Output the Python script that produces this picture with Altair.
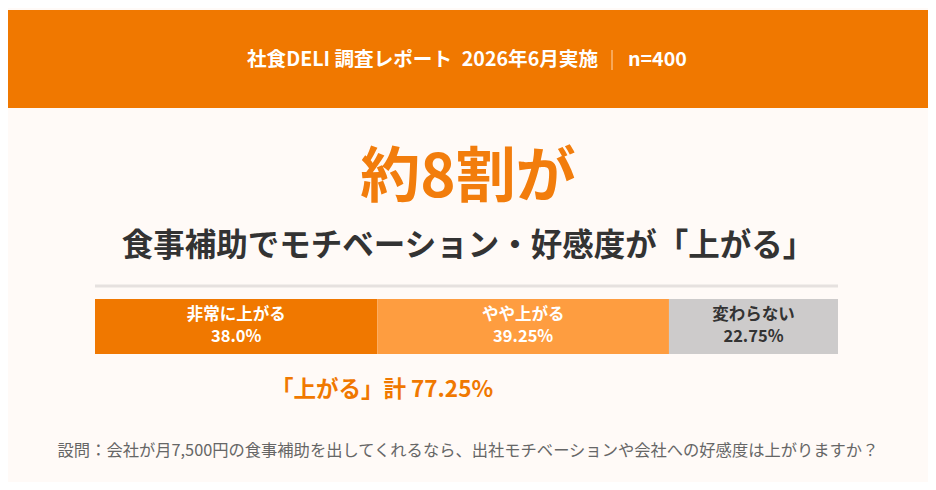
import altair as alt
import pandas as pd

# ---- data ----
categories = ["非常に上がる", "やや上がる", "変わらない"]
values = [38.0, 39.25, 22.75]
seg_colors = ["#F07800", "#FE9D40", "#CDCBCB"]
label_colors = ["#FFFFFF", "#FFFFFF", "#333333"]

header_left = "社食DELI 調査レポート\u20022026年6月実施"
header_right = "n=400"
headline = "約8割が"
subhead = "食事補助でモチベーション・好感度が「上がる」"
question = "設問：会社が月7,500円の食事補助を出してくれるなら、出社モチベーションや会社への好感度は上がりますか？"

FONT = "Noto Sans CJK JP"
ORANGE = "#F07800"
BG = "#FFFAF7"

W, H = 920, 474

# ---- tables ----
starts = []
acc = 0.0
for v in values:
    starts.append(acc)
    acc += v
bars = pd.DataFrame({
    "cat": categories,
    "value": values,
    "start": starts,
    "end": [s + v for s, v in zip(starts, values)],
    "pct": [f"{v}%" for v in values],
    "color": seg_colors,
    "tcolor": label_colors,
})
bars["mid"] = (bars["start"] + bars["end"]) / 2

up_total = values[0] + values[1]
total_df = pd.DataFrame({"s": [0.0], "e": [up_total],
                         "label": [f"「上がる」計 {up_total}%"]})
total_df["mid"] = (total_df["s"] + total_df["e"]) / 2

xscale = alt.Scale(domain=[0, 100], range=[87, 830])

one = pd.DataFrame({"k": [0]})

band = alt.Chart(one).mark_rect(color=ORANGE).encode(
    x=alt.value(-6), x2=alt.value(W + 6), y=alt.value(2), y2=alt.value(100))

hdr_l = alt.Chart(pd.DataFrame({"t": [header_left]})).mark_text(
    font=FONT, fontSize=19.6, fontWeight="bold", color="white", align="right", baseline="middle"
).encode(x=alt.value(590), y=alt.value(52), text="t:N")
hdr_sep = alt.Chart(one).mark_rule(color="#FFD7B0", strokeWidth=1).encode(
    x=alt.value(604), y=alt.value(42), y2=alt.value(62))
hdr_r = alt.Chart(pd.DataFrame({"t": [header_right]})).mark_text(
    font=FONT, fontSize=19.6, fontWeight="bold", color="white", align="left", baseline="middle"
).encode(x=alt.value(620), y=alt.value(52), text="t:N")

title = alt.Chart(pd.DataFrame({"t": [headline]})).mark_text(
    font=FONT, fontSize=60, fontWeight="bold", color="#F27D0C", align="center", baseline="middle"
).encode(x=alt.value(460), y=alt.value(171), text="t:N")
sub = alt.Chart(pd.DataFrame({"t": [subhead]})).mark_text(
    font=FONT, fontSize=31.5, fontWeight="bold", color="#333333", align="center", baseline="middle"
).encode(x=alt.value(460), y=alt.value(239), text="t:N")

sep = alt.Chart(one).mark_rule(color="#E6E1DF", strokeWidth=3).encode(
    x=alt.value(87), x2=alt.value(830), y=alt.value(278))

base = alt.Chart(bars)
seg = base.mark_rect().encode(
    x=alt.X("start:Q", scale=xscale, axis=None),
    x2="end:Q",
    y=alt.value(291), y2=alt.value(346),
    color=alt.Color("color:N", scale=None),
)
lab1 = base.mark_text(font=FONT, fontSize=16.5, fontWeight="bold", baseline="middle").encode(
    x=alt.X("mid:Q", scale=xscale, axis=None), y=alt.value(307), text="cat:N",
    color=alt.Color("tcolor:N", scale=None))
lab2 = base.mark_text(font=FONT, fontSize=16.5, fontWeight="bold", baseline="middle").encode(
    x=alt.X("mid:Q", scale=xscale, axis=None), y=alt.value(329), text="pct:N",
    color=alt.Color("tcolor:N", scale=None))

tot = alt.Chart(total_df).mark_text(
    font=FONT, fontSize=22.5, fontWeight="bold", color=ORANGE, baseline="middle"
).encode(x=alt.X("mid:Q", scale=xscale, axis=None), y=alt.value(382), text="label:N")

foot = alt.Chart(pd.DataFrame({"t": [question]})).mark_text(
    font=FONT, fontSize=16.3, color="#666666", align="center", baseline="middle"
).encode(x=alt.value(460), y=alt.value(443), text="t:N")

chart = alt.layer(band, hdr_l, hdr_sep, hdr_r, title, sub, sep, seg, lab1, lab2, tot, foot).properties(
    width=W, height=H, background=BG, padding=0,
    autosize=alt.AutoSizeParams(type="none"),
).configure_view(stroke=None)

chart.save("out.html", embed_options={"renderer": "svg", "actions": False})
